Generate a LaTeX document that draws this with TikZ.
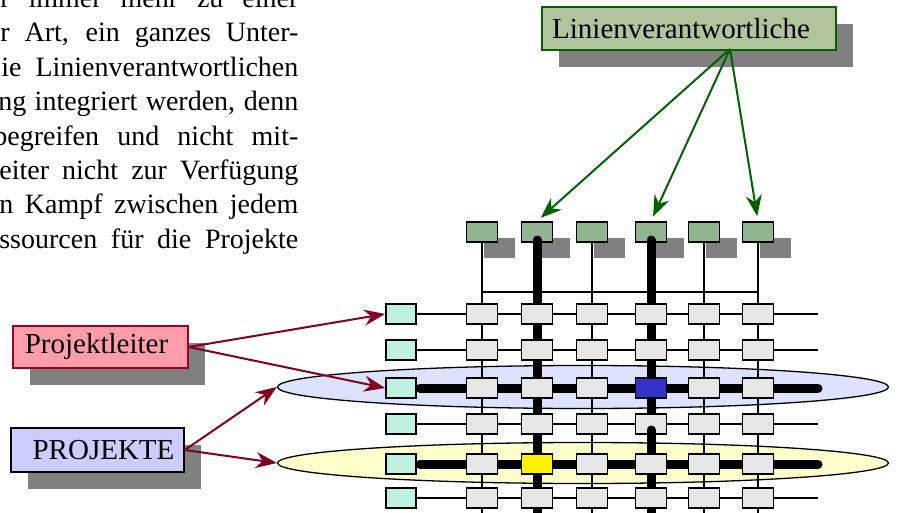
\documentclass[tikz,border=0pt]{standalone}
\usepackage{fontspec}
\setmainfont{Liberation Serif}
\usetikzlibrary{arrows.meta,shapes.geometric,shadows}

\definecolor{linegreen}{RGB}{0,96,0}
\definecolor{headgreen}{RGB}{145,180,145}
\definecolor{labelgreen}{RGB}{178,196,158}
\definecolor{arrowred}{RGB}{128,0,32}
\definecolor{leiterred}{RGB}{153,0,40}
\definecolor{leiterpink}{RGB}{255,158,170}
\definecolor{projblue}{RGB}{204,204,255}
\definecolor{poolcyan}{RGB}{191,240,226}
\definecolor{cellgray}{RGB}{230,230,230}
\definecolor{ellblue}{RGB}{220,226,255}
\definecolor{ellyellow}{RGB}{255,255,204}
\definecolor{hitblue}{RGB}{51,51,204}

\newcommand*{\rowlist}{1/314,2/350,3/388,4/424,5/464,6/498}
\newcommand*{\collist}{1/482,2/537,3/592,4/651,5/704,6/758}

\begin{document}
\begin{tikzpicture}[x=1pt, y=-1pt, line width=1.3pt,
    cell/.style={draw, line width=1.8pt, fill=cellgray, minimum width=31pt,
      minimum height=20pt, inner sep=0pt},
    cell 34/.style={fill=hitblue},
    cell 52/.style={fill=yellow},
    pool/.style={cell, fill=poolcyan, minimum width=30pt},
    head/.style={cell, fill=headgreen,
      general shadow={fill=black!50, shadow xshift=17pt, shadow yshift=-16pt}},
    labelbox/.style={draw, line width=1.5pt, inner sep=0pt,
      font=\fontsize{29}{34}\selectfont,
      general shadow={fill=black!50, shadow xshift=17pt, shadow yshift=-17pt}},
    heavy/.style={line width=9pt, line cap=round},
    redarrow/.style={draw=arrowred, line width=2pt, -{Stealth[length=21pt, width=16pt]}},
    greenarrow/.style={draw=linegreen, line width=2pt, -{Stealth[length=21pt, width=16pt]}, shorten >=5pt}]

  \useasboundingbox (0,0) rectangle (898,512);
  \clip (0,0) rectangle (898,512);

  \foreach \n/\w/\t in {1/298/{r immer mehr zu einer},
      2/298/{r Art, ein ganzes Unter-},
      3/297/{ie Linienverantwortlichen},
      4/300/{ng integriert werden, denn},
      5/305/{begreifen und nicht mit-},
      6/299/{eiter nicht zur Verfügung},
      7/299/{n Kampf zwischen jedem},
      8/299/{ssourcen für die Projekte}}
  {
    \node[anchor=base east, inner sep=0pt, font=\fontsize{28}{34}\selectfont]
      (t\n) at (299, {7.5+34.4*(\n-1)}) {\makebox[\w pt][s]{\t}};
  }

  \node[ellipse, draw, fill=ellblue, minimum width=611pt, minimum height=43pt] (ellA) at (583,387) {};
  \node[ellipse, draw, fill=ellyellow, minimum width=611pt, minimum height=41pt] (ellB) at (583,463) {};

  \node[labelbox, fill=labelgreen, draw=linegreen, minimum width=294pt, minimum height=43pt]
    (linien) at (689,28.5) {Linienverantwortliche\hspace*{16pt}};
  \node[labelbox, fill=leiterpink, draw=leiterred, minimum width=175pt, minimum height=42pt]
    (leiter) at (100.5,347) {Projektleiter\hspace*{8pt}};
  \node[labelbox, fill=projblue, minimum width=173pt, minimum height=44pt]
    (projekte) at (97.5,450) {\hspace*{12pt}PROJEKTE};
  \coordinate (lvfoot) at (730,49);

  \foreach \c/\x in \collist
  {
    \node[head] (l\c) at (\x,232) {};
    \coordinate (bus\c) at (\x,292);
    \coordinate (bot\c) at (\x,516);
    \draw (l\c.south) -- (bot\c);
  }
  \draw (bus1) -- (bus6);

  \foreach \r/\y in \rowlist
  {
    \node[pool] (p\r) at (401,\y) {};
    \coordinate (end\r) at (818,\y);
    \draw (p\r.east) -- (end\r);
  }

  \draw[heavy]
    (537,240) -- (bot2)
    (651,240) -- (bot4)
    (420,388) -- (end3)
    (420,464) -- (end5);

  \foreach \r/\y in \rowlist
  {
    \foreach \c/\x in \collist
    {
      \node[cell, cell \r\c/.try] (g\r\c) at (\x,\y) {};
    }
    \ifnum\r=4
      \draw[heavy] (651,430) -- (651,448);
    \fi
  }

  \draw[redarrow] (leiter.east) -- (p1.west);
  \draw[redarrow] (leiter.east) -- (p3.west);
  \draw[redarrow] (projekte.east) -- (ellA.west);
  \draw[redarrow] (projekte.east) -- (ellB.west);

  \draw[greenarrow] (lvfoot) -- (l2.north);
  \draw[greenarrow] (lvfoot) -- (l4.north);
  \draw[greenarrow] (lvfoot) -- (l6.north);
\end{tikzpicture}
\end{document}
